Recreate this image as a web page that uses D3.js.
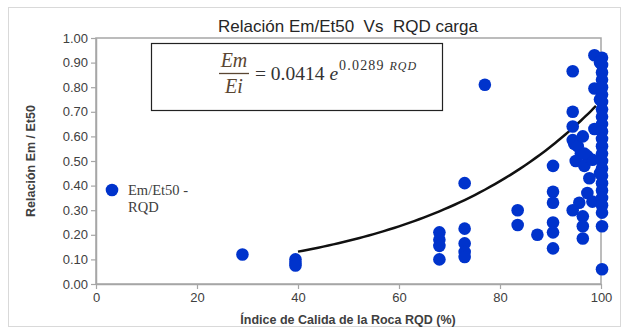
<!DOCTYPE html>
<html>
<head>
<meta charset="utf-8">
<script src="https://cdn.jsdelivr.net/npm/d3@7"></script>
<style>
  body { margin: 0; background: #fff; }
  svg { font-family: "Liberation Sans", Arial, sans-serif; }
</style>
</head>
<body>
<svg width="629" height="332"></svg>
<script>
// RQD (%) and Em/Et50 values
var rqd = [29, 39.5, 39.5, 39.5,
  68, 68, 68, 68, 73, 73, 73, 73, 73, 77,
  83.5, 83.5, 87.4, 90.5, 90.5, 90.5, 90.5, 90.5, 90.5,
  94.4, 94.4, 94.4, 94.4, 94.4, 94.7, 95.7, 96.4, 96.4, 96.4,
  97.3, 97.7, 98.3, 96, 95, 96.7, 97.3, 98.3, 95.4, 96.4, 96.7,
  98.7, 98.7, 98.7,
  100.2, 100.2, 100.2, 100.2, 100.2, 100.2, 100.2, 100.2, 100.2, 100.2, 100.2, 100.2,
  100.2, 100.2, 100.2, 100.2, 100.2, 100.2, 100.2, 100.2, 100.2, 100.2, 100.2, 100.2,
  99.8, 99.8, 99.8];
var ratio = [0.12, 0.10, 0.085, 0.075,
  0.21, 0.18, 0.155, 0.10, 0.41, 0.225, 0.165, 0.13, 0.11, 0.81,
  0.30, 0.24, 0.20, 0.48, 0.375, 0.33, 0.25, 0.21, 0.145,
  0.865, 0.70, 0.64, 0.585, 0.30, 0.57, 0.33, 0.275, 0.235, 0.185,
  0.37, 0.43, 0.335, 0.53, 0.50, 0.48, 0.52, 0.505, 0.56, 0.60, 0.53,
  0.93, 0.795, 0.63,
  0.92, 0.89, 0.86, 0.83, 0.80, 0.77, 0.74, 0.71, 0.68, 0.65, 0.62, 0.59,
  0.56, 0.53, 0.50, 0.47, 0.44, 0.41, 0.38, 0.35, 0.32, 0.29, 0.235, 0.06,
  0.90, 0.75, 0.45];

var yTicks = d3.range(0, 1.0001, 0.1);
var xTicks = [0, 20, 40, 60, 80, 100];
var fitA = 0.0414, fitB = 0.0289;
var fitFrom = 40, fitTo = 99;

var svg = d3.select("svg");
var grey = "#a6a6a6";

// outer frame
svg.append("rect").attr("x", 8.5).attr("y", 7.5).attr("width", 612).attr("height", 319)
  .attr("fill", "none").attr("stroke", "#d9d9d9");

var pLeft = 96, pRight = 601, pTop = 38, pBottom = 284;
var x = d3.scaleLinear().domain([0, 100]).range([pLeft, pRight]);
var y = d3.scaleLinear().domain([0, 1]).range([pBottom, pTop]);

// plot border
svg.append("rect").attr("x", pLeft).attr("y", pTop).attr("width", pRight - pLeft).attr("height", pBottom - pTop)
  .attr("fill", "none").attr("stroke", grey).attr("stroke-width", 1.5);

var yAxis = svg.append("g").attr("transform", "translate(" + pLeft + ",0)")
  .call(d3.axisLeft(y).tickValues(yTicks).tickFormat(d3.format(".2f")).tickSize(5).tickSizeOuter(0));
var xAxis = svg.append("g").attr("transform", "translate(0," + pBottom + ")")
  .call(d3.axisBottom(x).tickValues(xTicks).tickSize(5).tickSizeOuter(0));
[yAxis, xAxis].forEach(function(g) {
  g.select(".domain").attr("stroke", grey).attr("stroke-width", 1.5);
  g.selectAll(".tick line").attr("stroke", grey).attr("stroke-width", 1.2);
  g.selectAll(".tick text").attr("fill", "#404040").style("font-size", "13px")
    .style("font-family", "Liberation Sans, Arial, sans-serif");
});
yAxis.selectAll(".tick text").attr("x", -8);
xAxis.selectAll(".tick text").attr("y", 9);

// fit curve
var curve = d3.range(fitFrom, fitTo + 0.01, 1).map(function(r) { return [r, fitA * Math.exp(fitB * r)]; });
svg.append("path").datum(curve)
  .attr("d", d3.line().x(function(d) { return x(d[0]); }).y(function(d) { return y(d[1]); }).curve(d3.curveMonotoneX))
  .attr("fill", "none").attr("stroke", "#111").attr("stroke-width", 2.5);

// points
svg.append("g").selectAll("circle").data(rqd).join("circle")
  .attr("cx", function(d) { return x(d); })
  .attr("cy", function(d, i) { return y(ratio[i]); })
  .attr("r", 6.3).attr("fill", "#0033cc");

// title
svg.append("text").attr("x", 348).attr("y", 32).attr("text-anchor", "middle")
  .attr("fill", "#262626").style("font-size", "17px").style("white-space", "pre")
  .text("Relación Em/Et50  Vs  RQD carga");

// axis titles
svg.append("text").attr("x", 348).attr("y", 324).attr("text-anchor", "middle")
  .attr("fill", "#404040").style("font-size", "12.5px").style("font-weight", "bold")
  .text("Índice de Calida de la Roca RQD (%)");
svg.append("text").attr("transform", "translate(35,161) rotate(-90)").attr("text-anchor", "middle")
  .attr("fill", "#404040").style("font-size", "12.5px").style("font-weight", "bold")
  .text("Relación Em / Et50");

// legend
svg.append("circle").attr("cx", 112).attr("cy", 190).attr("r", 6.3).attr("fill", "#0033cc");
var leg = svg.append("text").attr("fill", "#404040").style("font-family", "Liberation Serif, serif").style("font-size", "14.5px");
leg.append("tspan").attr("x", 128).attr("y", 195).text("Em/Et50 -");
leg.append("tspan").attr("x", 128).attr("y", 212).text("RQD");

// equation box
svg.append("rect").attr("x", 151.5).attr("y", 43.5).attr("width", 291).attr("height", 67)
  .attr("fill", "#fff").attr("stroke", "#222").attr("stroke-width", 1.2);
var eq = svg.append("g").style("font-family", "Liberation Serif, serif");
eq.append("text").attr("x", 234).attr("y", 67).attr("text-anchor", "middle")
  .attr("fill", "#5a4632").style("font-size", "20px").style("font-style", "italic").text("Em");
eq.append("line").attr("x1", 219).attr("x2", 249).attr("y1", 73.5).attr("y2", 73.5)
  .attr("stroke", "#5a4632").attr("stroke-width", 1.3);
eq.append("text").attr("x", 234).attr("y", 93).attr("text-anchor", "middle")
  .attr("fill", "#5a4632").style("font-size", "20px").style("font-style", "italic").text("Ei");
var rhs = eq.append("text").attr("x", 255).attr("y", 80).attr("fill", "#333").style("font-size", "19.5px");
rhs.append("tspan").text("= 0.0414 ");
rhs.append("tspan").style("font-style", "italic").text("e");
rhs.append("tspan").attr("dy", -10).attr("dx", 1).style("font-size", "14px").style("letter-spacing", "1.2px").text("0.0289 ");
rhs.append("tspan").style("font-size", "12px").style("font-style", "italic").style("letter-spacing", "1px").text("RQD");
</script>
</body>
</html>
